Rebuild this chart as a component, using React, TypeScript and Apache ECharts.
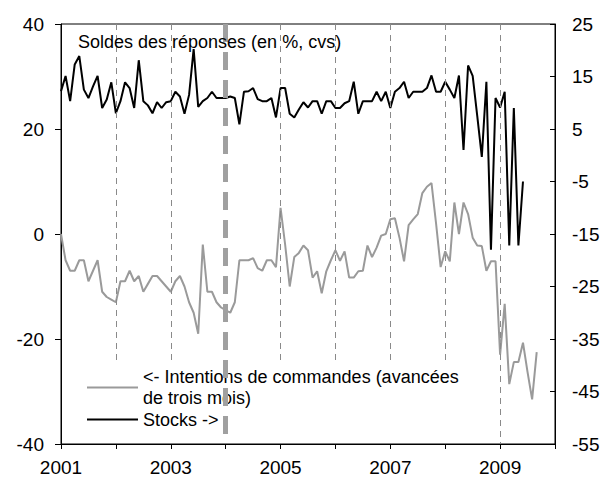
import React, { useEffect, useRef } from 'react';
import * as echarts from 'echarts';

// Monthly data starting January 2001
const START_YEAR = 2001;

// "<- Intentions de commandes (avancées de trois mois)" — left axis
const intentions = [
  0, -5, -7, -7, -5, -5, -9, -7, -5, -11, -12, -12.5,
  -13, -9, -9, -7, -9, -8, -11, -9.5, -8, -8, -9, -10,
  -11, -9, -8, -10, -13, -15, -19, -2, -11, -11, -13, -14,
  -14.5, -15, -13, -5, -5, -5, -4.6, -6.5, -7, -5, -5, -6.3,
  5, -2, -10, -4.4, -3.6, -2.2, -3.1, -8.3, -7.1, -11.3, -7.1, -5,
  -3.1, -5.1, -3.3, -8.3, -8.3, -7.1, -7, -2.2, -4.4, -2.6, -0.3, 0,
  2.8, 3, -0.7, -5.2, 1.7, 2.8, 3.8, 7.8, 9, 9.7, 2, -6.3,
  -3.3, -5.2, 6, 0, 6, 3.8, -0.7, -2.2, -2.3, -7, -5.2, -5.2,
  -23, -13.3, -28.6, -24.4, -24.4, -20.7, -26.3, -31.5, -22.5,
];

// "Stocks ->" — right axis
const stocks = [
  12.2, 15.1, 10.3, 17.3, 18.9, 12.5, 10.9, 13.1, 15.1, 9, 10.6, 13.9,
  8, 10.3, 13.9, 12.8, 9, 18.1, 10.3, 9.5, 8, 10.1, 9, 10.1,
  10.3, 12.1, 11.2, 7.9, 11.5, 20.2, 9.2, 10.3, 10.9, 12.1, 10.9, 10.9,
  10.9, 11.2, 10.9, 5.9, 12.1, 12.2, 12.8, 10.7, 10.3, 10.3, 10.9, 7.2,
  12.8, 12.8, 7.9, 7.2, 8.7, 10.1, 9.1, 10.3, 10.3, 7.9, 10.3, 10.3,
  9, 9, 9.9, 10.3, 14, 7.9, 10.3, 10.3, 10.3, 12.1, 10.3, 12.1,
  9, 12.1, 12.8, 14, 10.9, 12.1, 12.1, 12.1, 12.8, 15.2, 12.1, 12.1,
  14, 12.5, 10.9, 15.2, 1, 17.1, 15.1, 7.5, -0.3, 14, -18, 10.9,
  9.1, 12.1, -17.2, 9, -17.2, -5,
];

const xLabelYears = [2001, 2003, 2005, 2007, 2009];
const rightTicks = [-55, -45, -35, -25, -15, -5, 5, 15, 25];
const gridYears = [2002, 2003, 2005, 2006, 2007, 2008];
const fullGridYears = [2009];
const markerYear = 2004;

const TITLE = 'Soldes des réponses (en %, cvs)';
const INT_NAME = 'Intentions';
const INT_LABEL = '<- Intentions de commandes (avancées\nde trois mois)';
const STOCK_NAME = 'Stocks';
const STOCK_LABEL = 'Stocks ->';

const FONT = '"Liberation Sans", Arial, sans-serif';

const toPoints = (arr: number[]) => arr.map((v, i) => [START_YEAR + i / 12, v]);

export default function App() {
  const ref = useRef<HTMLDivElement>(null);
  useEffect(() => {
    const chart = echarts.init(ref.current!, null, { renderer: 'svg' });
    const thin = { type: [6, 5], color: '#8a8a8a', width: 1 };
    const markData: any[] = [];
    gridYears.forEach((y) => markData.push([{ coord: [y, 40], lineStyle: thin }, { coord: [y, -24.6] }]));
    fullGridYears.forEach((y) => markData.push([{ coord: [y, 40], lineStyle: thin }, { coord: [y, -40] }]));
    markData.push([
      { coord: [markerYear, 40], lineStyle: { type: [18, 10], color: '#a0a0a0', width: 5 } },
      { coord: [markerYear, -40] },
    ]);

    chart.setOption({
      animation: false,
      textStyle: { fontFamily: FONT },
      title: {
        text: TITLE,
        left: 78,
        top: 33,
        padding: 0,
        textStyle: { fontSize: 18, fontWeight: 'normal', color: '#000', fontFamily: FONT },
      },
      legend: {
        orient: 'vertical',
        left: 86,
        top: 356,
        padding: 0,
        itemGap: -10,
        itemWidth: 51,
        itemHeight: 14,
        selectedMode: false,
        itemStyle: { opacity: 0 },
        formatter: (name: string) => (name === INT_NAME ? INT_LABEL : STOCK_LABEL),
        textStyle: { fontSize: 18, lineHeight: 21, color: '#000', fontFamily: FONT },
        data: [
          { name: INT_NAME, textStyle: { padding: [21, 0, 0, 0] } },
          { name: STOCK_NAME },
        ],
      },
      grid: {
        left: 61,
        right: 52,
        top: 24,
        bottom: 40,
        show: true,
        borderColor: '#000',
        borderWidth: 1,
        containLabel: false,
      },
      xAxis: {
        type: 'value',
        min: 2001,
        max: 2010,
        interval: 1,
        axisLine: { onZero: false, lineStyle: { color: '#000', width: 1 } },
        axisTick: { show: true, length: 5, lineStyle: { color: '#000' } },
        axisLabel: {
          customValues: xLabelYears,
          formatter: (v: number) => String(v),
          fontSize: 19,
          color: '#000',
          margin: 14,
          fontFamily: FONT,
        },
        splitLine: { show: false },
      },
      yAxis: [
        {
          type: 'value',
          min: -40,
          max: 40,
          interval: 20,
          axisLine: { show: true, lineStyle: { color: '#000', width: 1 } },
          axisTick: { show: true, length: 6, lineStyle: { color: '#000' } },
          axisLabel: { fontSize: 19, color: '#000', margin: 17, fontFamily: FONT },
          splitLine: { show: false },
        },
        {
          type: 'value',
          min: -55,
          max: 25,
          position: 'right',
          axisLine: { show: true, lineStyle: { color: '#000', width: 1 } },
          axisTick: { show: true, inside: true, length: 5, customValues: rightTicks, lineStyle: { color: '#000' } },
          axisLabel: { customValues: rightTicks, fontSize: 19, color: '#000', margin: 17, fontFamily: FONT },
          splitLine: { show: false },
        },
      ],
      series: [
        {
          name: INT_NAME,
          type: 'line',
          yAxisIndex: 0,
          data: toPoints(intentions),
          symbol: 'none',
          lineStyle: { color: '#9a9a9a', width: 2 },
          itemStyle: { color: '#9a9a9a' },
          markLine: {
            silent: true,
            symbol: ['none', 'none'],
            label: { show: false },
            animation: false,
            data: markData,
          },
        },
        {
          name: STOCK_NAME,
          type: 'line',
          yAxisIndex: 1,
          data: toPoints(stocks),
          symbol: 'none',
          lineStyle: { color: '#000', width: 2 },
          itemStyle: { color: '#000' },
        },
      ],
    });
    return () => chart.dispose();
  }, []);
  return (
    <div
      ref={ref}
      style={{ position: 'fixed', left: 0, top: 0, width: 607, height: 484, background: '#fff' }}
    />
  );
}
